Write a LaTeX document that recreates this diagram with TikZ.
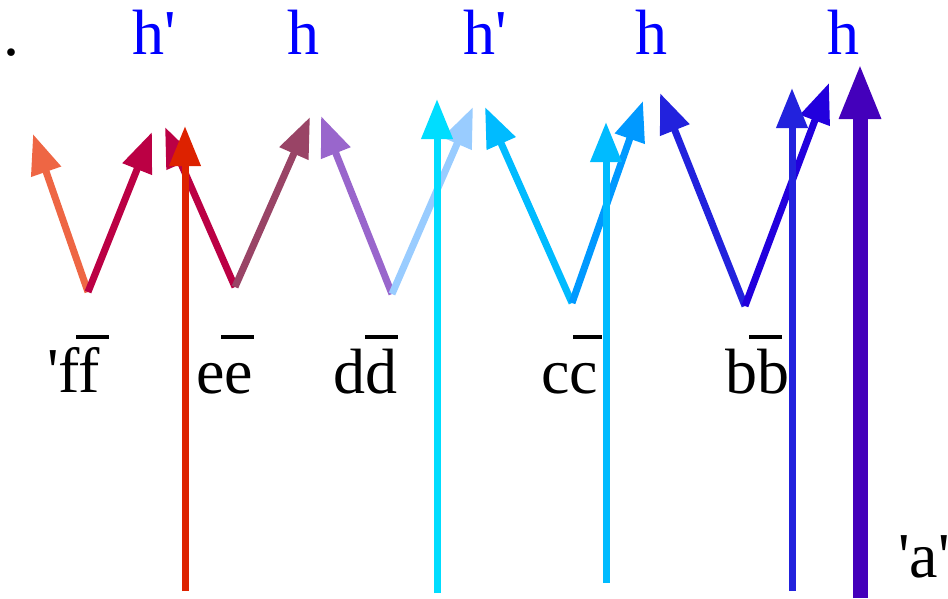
\documentclass[tikz,border=0pt]{standalone}
\usepackage{fontspec}
\setmainfont{Liberation Serif}
\usetikzlibrary{arrows.meta,calc}
\definecolor{hblue}{HTML}{0000FF}
\definecolor{cOrange}{HTML}{EE6644}
\definecolor{cCrimson}{HTML}{BB0044}
\definecolor{cMauve}{HTML}{994466}
\definecolor{cLilac}{HTML}{9966CC}
\definecolor{cPale}{HTML}{99CCFF}
\definecolor{cSky}{HTML}{00BBFF}
\definecolor{cAzure}{HTML}{0099FF}
\definecolor{cBlueA}{HTML}{2222DD}
\definecolor{cBlueB}{HTML}{2200DD}
\definecolor{cRed}{HTML}{DD2200}
\definecolor{cCyan}{HTML}{00DDFF}
\definecolor{cPurple}{HTML}{4400BB}
\newcommand{\sq}{\textquotesingle}
\begin{document}
\begin{tikzpicture}[x=1pt,y=-1pt,line cap=butt,
  varrow/.style={line width=7pt,-{Triangle[length=40pt,width=30pt]}},
  bigarrow/.style={line width=15pt,-{Triangle[length=56pt,width=38pt]}},
  lbl/.style={font=\fontsize{64}{70}\selectfont,inner sep=0pt,anchor=base west},
  hlbl/.style={lbl,text=hblue},
  bar/.style={line width=4pt}]
\useasboundingbox (0,0) rectangle (948,598);
% top labels
\node[lbl] (dot) at (3,55) {.};
\node[hlbl] (h1) at (132,54) {h\sq};
\node[hlbl] (h2) at (287,54) {h};
\node[hlbl] (h3) at (463,54) {h\sq};
\node[hlbl] (h4) at (635,54) {h};
\node[hlbl] (h5) at (827,54) {h};
% bottom labels
\node[lbl] (lf) at (47,392) {\sq ff};
\node[lbl] (le) at (196,393) {ee};
\node[lbl] (ld) at (333,393) {dd};
\node[lbl] (lc) at (541,393) {cc};
\node[lbl] (lb) at (725,393) {bb};
\node[lbl] (la) at (898,577) {\sq a\sq};
\draw[bar] ($(lf.base west)+(29,-55)$) -- ++(33,0);
\draw[bar] ($(le.base west)+(25,-56)$) -- ++(33,0);
\draw[bar] ($(ld.base west)+(32,-56)$) -- ++(33,0);
\draw[bar] ($(lc.base west)+(32,-56)$) -- ++(29,0);
\draw[bar] ($(lb.base west)+(24,-56)$) -- ++(33,0);
% V coordinates
\coordinate (fb) at (88,292);  \coordinate (fl) at (33,134);  \coordinate (fr) at (152,132);
\coordinate (eb) at (235,287); \coordinate (el) at (165,127); \coordinate (er) at (310,117);
\coordinate (db) at (392,294); \coordinate (dl) at (321,116); \coordinate (dr) at (473,107);
\coordinate (cb) at (572,303); \coordinate (cl) at (485,107); \coordinate (cr) at (643,101);
\coordinate (bb) at (745,306); \coordinate (bl) at (660,93);  \coordinate (br) at (829,83);
\draw[varrow,cOrange] (fb) -- (fl);
\draw[varrow,cCrimson] (fb) -- (fr);
\draw[varrow,cCrimson] (eb) -- (el);
\draw[varrow,cMauve] (eb) -- (er);
\draw[varrow,cLilac] (db) -- (dl);
\draw[varrow,cPale] (db) -- (dr);
\draw[varrow,cSky] (cb) -- (cl);
\draw[varrow,cAzure] (cb) -- (cr);
\draw[varrow,cBlueA] (bb) -- (bl);
\draw[varrow,cBlueB] (bb) -- (br);
% vertical arrows
\coordinate (v1s) at (185,591); \coordinate (v1t) at (185,126);
\coordinate (v2s) at (437,593); \coordinate (v2t) at (437,99);
\coordinate (v3s) at (606,583); \coordinate (v3t) at (606,122);
\coordinate (v4s) at (792,591); \coordinate (v4t) at (792,88);
\coordinate (v5s) at (860,598); \coordinate (v5t) at (860,63);
\draw[varrow,cRed] (v1s) -- (v1t);
\draw[varrow,cCyan] (v2s) -- (v2t);
\draw[varrow,cSky] (v3s) -- (v3t);
\draw[varrow,cBlueA] (v4s) -- (v4t);
\draw[bigarrow,cPurple] (v5s) -- (v5t);
\end{tikzpicture}
\end{document}
